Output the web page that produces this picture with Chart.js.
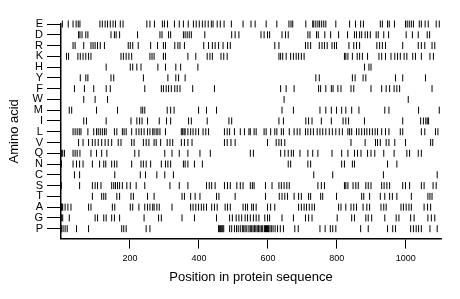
<!DOCTYPE html>
<html><head><meta charset="utf-8">
<script src="https://cdn.jsdelivr.net/npm/chart.js@4/dist/chart.umd.min.js"></script>
<style>html,body{margin:0;padding:0;background:#fff}#wrap{width:460px;height:299px;position:relative}</style>
</head><body><div id="wrap"><canvas id="c"></canvas></div>
<script>
const aminoAcids = ['E','D','R','K','H','Y','F','W','M','I','L','V','Q','N','C','S','T','A','G','P'];
const xTickValues = [200,400,600,800,1000];
const seqLength = 1102;
const posE = [4,21,35,44,50,55,113,120,128,135,143,151,158,172,180,249,258,271,294,300,309,329,343,355,369,384,392,401,410,418,427,436,441,453,462,473,494,528,551,563,595,626,661,667,672,710,730,733,739,745,750,756,762,768,797,837,854,869,877,926,932,947,952,967,999,1004,1010,1016,1022,1039,1045,1056,1065,1088,1097];
const posD = [51,55,61,72,78,145,155,160,170,222,287,293,312,318,355,360,366,372,378,417,495,505,516,580,589,599,605,641,651,659,716,722,741,746,765,782,805,831,851,857,866,872,882,889,897,914,920,936,950,1001,1019,1036,1062,1069];
const posR = [35,41,66,87,93,99,106,114,126,195,201,208,224,260,280,297,303,330,339,345,358,414,428,439,447,457,470,483,491,620,632,709,716,724,749,757,764,772,786,793,799,835,849,857,866,916,924,932,941,991,1036,1045,1055,1076,1084];
const posK = [16,22,49,56,64,72,80,87,174,181,189,197,205,258,264,270,297,303,368,391,424,432,439,464,472,482,632,637,643,653,666,674,682,689,697,705,822,826,832,845,859,866,874,889,922,930,941,957,968,976,984,995,1003,1020,1028,1045,1070,1080];
const posH = [131,201,208,220,232,281,303,333,347,397,880,893,899];
const posY = [56,72,78,145,153,239,310,333,341,360,739,749,845,853,876,884,970,991,1057];
const posF = [39,68,95,131,143,243,291,297,305,312,320,330,337,345,382,445,637,653,676,747,753,768,784,789,803,812,841,849,899,930,943,953,966,974,982,1076];
const posW = [66,99,135,647,1007];
const posM = [24,31,103,164,232,237,243,308,318,328,399,422,451,641,674,751,768,784,799,814,826,843,864,939,951,1037,1097];
const posI = [66,74,131,203,220,228,235,251,285,306,318,370,378,424,487,495,632,645,710,718,728,755,784,818,826,834,880,991,1043,1051,1058,1062,1066];
const posL = [35,41,47,53,58,78,95,103,108,114,120,126,131,155,162,178,183,189,205,218,226,233,241,251,258,266,270,276,281,287,303,349,353,357,360,368,376,383,391,399,412,420,428,474,482,489,503,520,532,545,549,560,566,589,595,608,620,626,639,645,662,676,685,693,709,716,724,732,743,751,759,768,778,787,797,807,816,832,837,843,857,864,872,880,887,895,903,911,918,930,941,951,984,991,1045,1055,1086,1093];
const posV = [51,64,80,91,99,108,118,128,137,147,166,174,205,212,239,247,255,270,276,289,308,316,324,349,358,368,380,474,482,493,505,599,624,632,639,649,841,882,912,918,926,943,951,968,999,1072,1078];
const posQ = [1,5,10,35,41,47,55,87,103,118,133,214,226,301,322,343,368,403,433,549,558,637,649,659,668,674,693,716,730,745,786,814,832,851,860,870,889,899,910,936,966,1003,1011,1036,1045];
const posN = [1,35,45,54,64,91,112,124,130,147,155,162,205,232,239,247,260,291,303,310,318,355,360,368,387,410,659,666,716,724,814,822,845,851,947,974];
const posC = [39,54,156,230,245,278,301,326,733,788,935,1091];
const posS = [1,54,91,99,106,116,147,153,158,164,170,178,191,201,218,243,316,343,368,422,430,437,447,474,483,491,510,520,528,549,555,560,593,612,632,639,647,655,662,745,755,764,822,826,832,847,855,862,884,891,899,930,937,945,953,991,999,1011,1045,1053,1079,1088];
const posT = [91,118,124,130,162,170,203,210,251,270,351,358,376,389,403,451,458,505,593,633,641,649,657,676,689,697,718,724,753,759,799,872,878,895,926,939,953,961,974,1016,1064,1070,1076];
const posA = [1,3,5,12,20,29,80,87,149,156,201,208,226,243,251,258,266,270,278,285,322,376,383,391,399,407,414,422,437,445,453,476,483,491,528,535,541,553,558,566,599,608,620,689,697,705,712,720,728,735,805,812,826,841,849,857,876,887,895,928,936,943,986,993,1001,1009,1016,1053,1063,1072];
const posG = [1,5,24,99,106,124,131,147,155,170,241,283,291,351,387,451,489,497,508,516,524,534,541,549,558,566,574,591,599,605,641,674,709,718,728,801,843,851,884,891,901,939,972,980,1014,1024,1064,1074,1084];
const posP = [1,6,12,18,45,80,176,182,189,247,258,457,460,463,466,469,472,489,495,503,509,514,520,526,530,534,539,545,549,553,557,561,565,569,573,577,581,585,590,593,596,599,602,606,610,615,621,628,636,645,678,688,751,766,781,788,797,869,891,947,962,970,1014,1022,1030,1037,1045,1070,1091];

const rows = [posE,posD,posR,posK,posH,posY,posF,posW,posM,posI,posL,posV,posQ,posN,posC,posS,posT,posA,posG,posP];
const n = aminoAcids.length;
const datasets = rows.map((arr, i) => ({
  label: aminoAcids[i],
  data: arr.map(p => ({x: p, y: n - 1 - i})),
  pointStyle: 'line', rotation: 90, radius: 3.5, borderWidth: 1,
  borderColor: '#000', backgroundColor: '#000', clip: false
}));

new Chart(document.getElementById('c'), {
  type: 'scatter',
  data: {datasets},
  options: {
    responsive: true, maintainAspectRatio: false, animation: false,
    layout: {padding: {top: 24, right: 19, left: 7, bottom: 14}},
    plugins: {legend: {display: false}, tooltip: {enabled: false}},
    scales: {
      x: {
        type: 'linear', min: 0, max: seqLength,
        afterBuildTicks: s => { s.ticks = xTickValues.map(v => ({value: v})); },
        grid: {drawOnChartArea: false, drawTicks: true, tickLength: 10, color: '#000', lineWidth: 1},
        border: {display: true, color: '#000', width: 1.5},
        ticks: {color: '#000', font: {family: 'Liberation Sans', size: 9}, padding: 5, maxRotation: 0,
          callback: v => String(v)},
        title: {display: true, text: 'Position in protein sequence', color: '#000', font: {family: 'Liberation Sans', size: 13}, padding: {top: 0, bottom: 0}}
      },
      y: {
        type: 'linear', min: -0.92, max: n - 1,
        afterBuildTicks: s => { s.ticks = aminoAcids.map((_, i) => ({value: i})); },
        grid: {drawOnChartArea: false, drawTicks: true, tickLength: 14, color: '#000', lineWidth: 1},
        border: {display: true, color: '#000', width: 1.5},
        ticks: {color: '#000', font: {family: 'Liberation Sans', size: 11}, padding: 4, autoSkip: false,
          callback: v => aminoAcids[n - 1 - v]},
        title: {display: true, text: 'Amino acid', color: '#000', font: {family: 'Liberation Sans', size: 13}, padding: {top: 0, bottom: 6}}
      }
    }
  }
});
</script></body></html>
